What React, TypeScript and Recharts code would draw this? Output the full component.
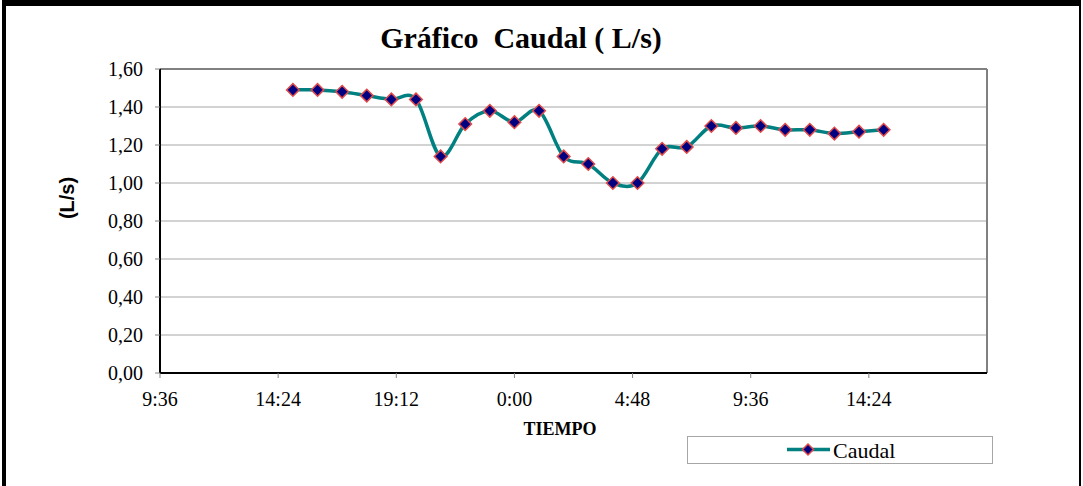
import React from "react";
import { CartesianGrid, Line, LineChart, ReferenceLine, XAxis, YAxis } from "recharts";

// horas de medición (día 1 15:00 → día 2 15:00)
const horas = [
  "15:00", "16:00", "17:00", "18:00", "19:00", "20:00", "21:00", "22:00", "23:00",
  "0:00", "1:00", "2:00", "3:00", "4:00", "5:00", "6:00", "7:00", "8:00", "9:00",
  "10:00", "11:00", "12:00", "13:00", "14:00", "15:00",
];

const caudal = [
  1.49, 1.49, 1.48, 1.46, 1.44, 1.44, 1.14, 1.31, 1.38, 1.32, 1.38, 1.14, 1.1,
  1.0, 1.0, 1.18, 1.19, 1.3, 1.29, 1.3, 1.28, 1.28, 1.26, 1.27, 1.28,
];

const xTicks = [0.4, 0.6, 0.8, 1.0, 1.2, 1.4, 1.6];
const xTickLabels = ["9:36", "14:24", "19:12", "0:00", "4:48", "9:36", "14:24"];
const yTicks = [0, 0.2, 0.4, 0.6, 0.8, 1.0, 1.2, 1.4, 1.6];

const TITLE = "Gráfico  Caudal ( L/s)";
const SERIES = "Caudal";

const SERIF = '"Liberation Serif", "Times New Roman", serif';
const SANS = '"Liberation Sans", Arial, sans-serif';
const TEAL = "#008080";
const NAVY = "#000080";
const MARK_EDGE = "#e04a4a";

// time label -> fraction of day, rolling over midnight
function toDays(labels: string[]): number[] {
  let day = 0;
  let prev = -1;
  return labels.map((s) => {
    const [h, m] = s.split(":").map(Number);
    const f = (h * 60 + m) / 1440;
    if (f < prev) day += 1;
    prev = f;
    return day + f;
  });
}

const dias = toDays(horas);
const data = dias.map((t, i) => ({ t, caudal: caudal[i] }));

// Excel-like smoothed line (Catmull-Rom as cubic bezier)
function excelSmooth(context: any) {
  let pts: [number, number][] = [];
  return {
    areaStart() {},
    areaEnd() {},
    lineStart() {
      pts = [];
    },
    lineEnd() {
      const n = pts.length;
      if (!n) return;
      context.moveTo(pts[0][0], pts[0][1]);
      const k = 1 / 6;
      for (let i = 0; i < n - 1; i++) {
        const p0 = pts[i - 1] || pts[i];
        const p1 = pts[i];
        const p2 = pts[i + 1];
        const p3 = pts[i + 2] || p2;
        context.bezierCurveTo(
          p1[0] + (p2[0] - p0[0]) * k,
          p1[1] + (p2[1] - p0[1]) * k,
          p2[0] - (p3[0] - p1[0]) * k,
          p2[1] - (p3[1] - p1[1]) * k,
          p2[0],
          p2[1]
        );
      }
    },
    point(x: number, y: number) {
      pts.push([x, y]);
    },
  };
}

function Diamond({ cx, cy, r = 6.3 }: { cx: number; cy: number; r?: number }) {
  return (
    <path
      d={`M${cx},${cy - r}L${cx + r},${cy}L${cx},${cy + r}L${cx - r},${cy}Z`}
      fill={NAVY}
      stroke={MARK_EDGE}
      strokeWidth={1.5}
    />
  );
}

const fmtY = (v: number) => v.toFixed(2).replace(".", ",");

export default function App() {
  return (
    <div style={{ position: "absolute", left: 0, top: 0, width: 1083, height: 486, background: "#fff" }}>
      <LineChart
        width={1083}
        height={486}
        data={data}
        margin={{ top: 69, right: 96, bottom: 83, left: 0 }}
      >
        <CartesianGrid vertical={false} stroke="#a6a6a6" strokeWidth={1} />
        <ReferenceLine y={1.6} stroke="#808080" strokeWidth={2} />
        <ReferenceLine x={1.8} stroke="#808080" strokeWidth={2} />
        <XAxis
          dataKey="t"
          type="number"
          scale="linear"
          domain={[0.4, 1.8]}
          ticks={xTicks}
          tickFormatter={(_v, i) => xTickLabels[i] ?? ""}
          height={30}
          tickSize={5}
          tickMargin={14}
          tick={{ fill: "#000", fontSize: 20, fontFamily: SERIF }}
          tickLine={{ stroke: "#808080" }}
          axisLine={{ stroke: "#000", strokeWidth: 2 }}
          interval={0}
        />
        <YAxis
          type="number"
          domain={[0, 1.6]}
          ticks={yTicks}
          tickFormatter={fmtY}
          width={160}
          tickSize={5}
          tickMargin={12}
          tick={{ fill: "#000", fontSize: 20, fontFamily: SERIF }}
          tickLine={{ stroke: "#808080" }}
          axisLine={{ stroke: "#000", strokeWidth: 2 }}
          interval={0}
        />
        <Line
          dataKey="caudal"
          type={excelSmooth as any}
          stroke={TEAL}
          strokeWidth={3.5}
          isAnimationActive={false}
          dot={(p: any) => <Diamond key={`d-${p.index}`} cx={p.cx} cy={p.cy} />}
          activeDot={false}
        />
      </LineChart>

      <svg
        width={1083}
        height={486}
        style={{ position: "absolute", left: 0, top: 0, pointerEvents: "none" }}
      >
        <text
          x={521}
          y={48}
          textAnchor="middle"
          fontFamily={SERIF}
          fontWeight="bold"
          fontSize={30}
          style={{ whiteSpace: "pre" }}
        >
          {TITLE}
        </text>
        <text
          transform="translate(74,198) rotate(-90)"
          textAnchor="middle"
          fontFamily={SANS}
          fontWeight="bold"
          fontSize={20}
        >
          (L/s)
        </text>
        <text x={560} y={435} textAnchor="middle" fontFamily={SERIF} fontWeight="bold" fontSize={18}>
          TIEMPO
        </text>
        <rect x={687.5} y={436.5} width={305} height={27} fill="#fff" stroke="#a6a6a6" strokeWidth={1} />
        <line x1={787} y1={449.5} x2={830} y2={449.5} stroke={TEAL} strokeWidth={3.5} />
        <Diamond cx={808} cy={449.5} r={5.5} />
        <text x={833} y={458} fontFamily={SERIF} fontSize={22}>
          {SERIES}
        </text>
      </svg>

      <div
        style={{
          position: "absolute",
          left: 2,
          top: 0,
          width: 1079,
          height: 486,
          boxSizing: "border-box",
          borderTop: "6px solid #000",
          borderLeft: "4px solid #000",
          borderRight: "2px solid #000",
          pointerEvents: "none",
        }}
      />
    </div>
  );
}
